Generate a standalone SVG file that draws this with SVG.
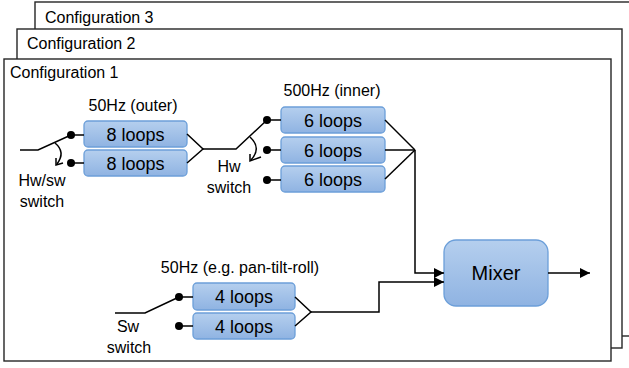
<svg xmlns="http://www.w3.org/2000/svg" width="629" height="368" viewBox="0 0 629 368">
<defs>
<linearGradient id="blue" x1="0" y1="0" x2="0" y2="1">
<stop offset="0" stop-color="#b5cfee"/>
<stop offset="1" stop-color="#8fb3e2"/>
</linearGradient>
<marker id="arr" viewBox="0 0 10 10" refX="10" refY="5" markerWidth="10" markerHeight="10" markerUnits="userSpaceOnUse" orient="auto">
<path d="M0,0 L10,5 L0,10 Z" fill="#000"/>
</marker>
</defs>
<style>
.frame{fill:#fff;stroke:#262626;stroke-width:1.4}
.box{fill:url(#blue);stroke:#6c9fd9;stroke-width:1.3}
.t{font-family:"Liberation Sans",Arial,sans-serif;fill:#000}
.lbl{font-size:16px}
.bt{font-size:18px;text-anchor:middle}
.c{text-anchor:middle}
.ln{fill:none;stroke:#000;stroke-width:1.5}
.dot{fill:#000}
</style>
<g id="config3">
<rect class="frame" x="35" y="2" width="610" height="334"/>
<text class="t lbl" x="45" y="23">Configuration 3</text>
</g>
<g id="config2">
<rect class="frame" x="17" y="29" width="605" height="319"/>
<text class="t lbl" x="27" y="49">Configuration 2</text>
</g>
<g id="config1">
<rect class="frame" x="4" y="59" width="607" height="302"/>
<text class="t lbl" x="10" y="78">Configuration 1</text>
</g>
<g id="labels">
<text class="t lbl c" x="133" y="111">50Hz (outer)</text>
<text class="t lbl c" x="332" y="96">500Hz (inner)</text>
<text class="t lbl c" x="240" y="273">50Hz (e.g. pan-tilt-roll)</text>
<text class="t lbl c" x="42" y="186">Hw/sw</text>
<text class="t lbl c" x="42" y="207">switch</text>
<text class="t lbl c" x="229" y="172">Hw</text>
<text class="t lbl c" x="229" y="193">switch</text>
<text class="t lbl c" x="128" y="332">Sw</text>
<text class="t lbl c" x="129" y="353">switch</text>
</g>
<g id="outer8a"><rect class="box" x="84" y="121" width="103" height="26" rx="4"/><text class="t bt" x="135.5" y="140.5">8 loops</text></g>
<g id="outer8b"><rect class="box" x="84" y="150" width="103" height="26" rx="4"/><text class="t bt" x="135.5" y="169.5">8 loops</text></g>
<g id="inner6a"><rect class="box" x="281" y="107" width="104" height="26" rx="4"/><text class="t bt" x="333" y="126.5">6 loops</text></g>
<g id="inner6b"><rect class="box" x="281" y="137" width="104" height="26" rx="4"/><text class="t bt" x="333" y="156.5">6 loops</text></g>
<g id="inner6c"><rect class="box" x="281" y="166" width="104" height="26" rx="4"/><text class="t bt" x="333" y="185.5">6 loops</text></g>
<g id="ptr4a"><rect class="box" x="193" y="283" width="102" height="27" rx="4"/><text class="t bt" x="244" y="303">4 loops</text></g>
<g id="ptr4b"><rect class="box" x="193" y="313" width="102" height="26" rx="4"/><text class="t bt" x="244" y="332.5">4 loops</text></g>
<g id="mixer"><rect class="box" x="444" y="240" width="104" height="66" rx="12"/><text class="t" x="496" y="280" font-size="20" text-anchor="middle">Mixer</text></g>
<g id="connectors">
<polyline class="ln" points="20,150 38,150 71,135"/>
<line class="ln" x1="71" y1="135" x2="84" y2="135"/>
<line class="ln" x1="71" y1="163" x2="84" y2="163"/>
<circle class="dot" cx="71" cy="135" r="4"/>
<circle class="dot" cx="71" cy="163" r="4"/>
<path class="ln" d="M55,143 Q66,152 57,164"/>
<polyline class="ln" points="63,163 56,165 56,158"/>
<polyline class="ln" points="187,134 203,149 187,163"/>
<polyline class="ln" points="203,149 236,149 267,120"/>
<line class="ln" x1="267" y1="120" x2="281" y2="120"/>
<line class="ln" x1="267" y1="150" x2="281" y2="150"/>
<line class="ln" x1="267" y1="180" x2="281" y2="180"/>
<circle class="dot" cx="267" cy="120" r="4"/>
<circle class="dot" cx="267" cy="150" r="4"/>
<circle class="dot" cx="267" cy="180" r="4"/>
<path class="ln" d="M250,137 Q262,148 251,160"/>
<polyline class="ln" points="261,157 250,161 250,154"/>
<line class="ln" x1="385" y1="120" x2="415" y2="150"/>
<line class="ln" x1="385" y1="150" x2="415" y2="150"/>
<line class="ln" x1="385" y1="179" x2="415" y2="150"/>
<polyline class="ln" points="415,150 415,273 444,273" marker-end="url(#arr)"/>
<polyline class="ln" points="115,313 145,313 179,297"/>
<line class="ln" x1="179" y1="297" x2="193" y2="297"/>
<line class="ln" x1="179" y1="326" x2="193" y2="326"/>
<circle class="dot" cx="179" cy="297" r="4"/>
<circle class="dot" cx="179" cy="326" r="4"/>
<polyline class="ln" points="295,297 311,312 295,326"/>
<polyline class="ln" points="311,312 379,312 379,282 444,282" marker-end="url(#arr)"/>
<line class="ln" x1="548" y1="273" x2="590" y2="273" marker-end="url(#arr)"/>
</g>
</svg>
